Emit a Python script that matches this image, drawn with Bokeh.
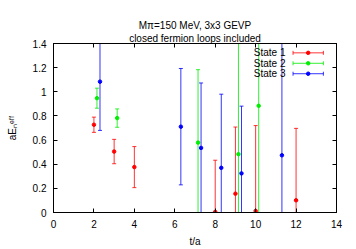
import math
from bokeh.plotting import figure
from bokeh.models import (ColumnDataSource, Label, LinearAxis, FixedTicker, PrintfTickFormatter,
                          Range1d, CustomJSTickFormatter, Title)
from bokeh.embed import file_html
from bokeh.resources import INLINE

# ---- data ----
series_names = ["State 1", "State 2", "State 3"]
series_colors = ["#ff0000", "#00ee00", "#0000ff"]

t1 = [2, 3, 4, 8, 9, 10, 12]
e1 = [0.727, 0.505, 0.376, 0.005, 0.156, 0.013, 0.101]
d1 = [0.063, 0.101, 0.170, 0.428, 0.552, 0.707, 0.596]

t2 = [2.15, 3.15, 7.15, 9.15, 10.15]
e2 = [0.947, 0.782, 0.579, 0.483, 0.884]
d2 = [0.083, 0.076, 0.604, 1.20, 1.10]

t3 = [2.3, 6.3, 7.3, 8.3, 9.3, 11.3]
e3 = [1.084, 0.711, 0.535, 0.370, 0.324, 0.474]
d3 = [0.404, 0.482, 0.538, 0.610, 0.557, 1.10]

xticks = [0, 2, 4, 6, 8, 10, 12, 14]
yticks = [0, 0.2, 0.4, 0.6, 0.8, 1, 1.2, 1.4]

title_line1 = "M\u03c0=150 MeV, 3x3 GEVP"
title_line2 = "closed fermion loops included"
x_label = "t/a"
y_label = "aE\u2099\u1d49\u1da0\u1da0"

FONT = "Liberation Sans"
FS = "10px"

p = figure(width=356, height=249, x_range=Range1d(0, 14), y_range=Range1d(0, 1.4),
           output_backend="svg", toolbar_location=None, title=None,
           min_border_left=53, min_border_right=20, min_border_top=43, min_border_bottom=36)
p.xgrid.visible = False
p.ygrid.visible = False
p.outline_line_color = "black"
p.outline_line_width = 1
p.background_fill_color = "white"
p.border_fill_color = "white"

p.xaxis.ticker = FixedTicker(ticks=xticks)
p.yaxis.ticker = FixedTicker(ticks=yticks)
p.yaxis.formatter = PrintfTickFormatter(format="%g")
for ax in [p.xaxis[0], p.yaxis[0]]:
    ax.major_tick_in = 4
    ax.major_tick_out = 0
    ax.minor_tick_line_color = None
    ax.axis_line_color = "black"
    ax.major_tick_line_color = "black"
    ax.major_label_text_font = FONT
    ax.major_label_text_font_size = FS
    ax.major_label_text_color = "black"
    ax.axis_label_text_font = FONT
    ax.axis_label_text_font_size = FS
    ax.axis_label_text_font_style = "normal"
    ax.axis_label_text_color = "black"
p.xaxis.major_label_standoff = 7
p.yaxis.major_label_standoff = 7
p.xaxis.axis_label = x_label
p.xaxis.axis_label_standoff = 5
p.yaxis.axis_label = y_label
p.yaxis.axis_label_standoff = 12

blank = CustomJSTickFormatter(code="return ''")
top = LinearAxis(ticker=FixedTicker(ticks=xticks), formatter=blank, major_tick_in=4, major_tick_out=0,
                 minor_tick_line_color=None, major_label_standoff=0, major_label_text_font_size="1px",
                 axis_line_color="black")
right = LinearAxis(ticker=FixedTicker(ticks=yticks), formatter=blank, major_tick_in=4, major_tick_out=0,
                   minor_tick_line_color=None, major_label_standoff=0, major_label_text_font_size="1px",
                   axis_line_color="black")
p.add_layout(top, "above")
p.add_layout(right, "right")

p.add_layout(Title(text=title_line2, align="center", text_font=FONT, text_font_size=FS,
                   text_font_style="normal", text_color="black", standoff=0), "above")
p.add_layout(Title(text=title_line1, align="center", text_font=FONT, text_font_size=FS,
                   text_font_style="normal", text_color="black", standoff=0), "above")

for t, e, d, c in [(t1, e1, d1, series_colors[0]), (t2, e2, d2, series_colors[1]), (t3, e3, d3, series_colors[2])]:
    src = ColumnDataSource(dict(t=t, e=e, lo=[a - b for a, b in zip(e, d)], hi=[a + b for a, b in zip(e, d)]))
    p.segment(x0="t", y0="lo", x1="t", y1="hi", source=src, line_color=c, line_alpha=0.8, line_width=1)
    p.scatter(x="t", y="lo", marker="dash", size=4, line_color=c, line_alpha=0.8, source=src)
    p.scatter(x="t", y="hi", marker="dash", size=4, line_color=c, line_alpha=0.8, source=src)
    p.scatter(x="t", y="e", marker="circle", size=3.5, fill_color=c, line_color=c, source=src)

# ---- legend (gnuplot style: text then sample) ----
leg_x0, leg_x1 = 11.85, 13.35
for i, (name, c) in enumerate(zip(series_names, series_colors)):
    yoff = 9.4 + i * 10.5
    yrow = 1.4 - yoff / 121.43
    p.add_layout(Label(x=14, y=1.4, x_offset=-51, y_offset=-yoff, text=name,
                       text_font=FONT, text_font_size=FS, text_align="right",
                       text_baseline="middle", text_color="black"))
    lsrc = ColumnDataSource(dict(x0=[leg_x0], x1=[leg_x1], xm=[(leg_x0 + leg_x1) / 2], y=[yrow]))
    p.segment(x0="x0", y0="y", x1="x1", y1="y", source=lsrc, line_color=c, line_alpha=0.8)
    p.scatter(x="x0", y="y", marker="dash", angle=math.pi / 2, size=4, line_color=c, line_alpha=0.8, source=lsrc)
    p.scatter(x="x1", y="y", marker="dash", angle=math.pi / 2, size=4, line_color=c, line_alpha=0.8, source=lsrc)
    p.scatter(x="xm", y="y", marker="circle", size=3.5, fill_color=c, line_color=c, source=lsrc)

open("out.html", "w").write(file_html(p, INLINE))
